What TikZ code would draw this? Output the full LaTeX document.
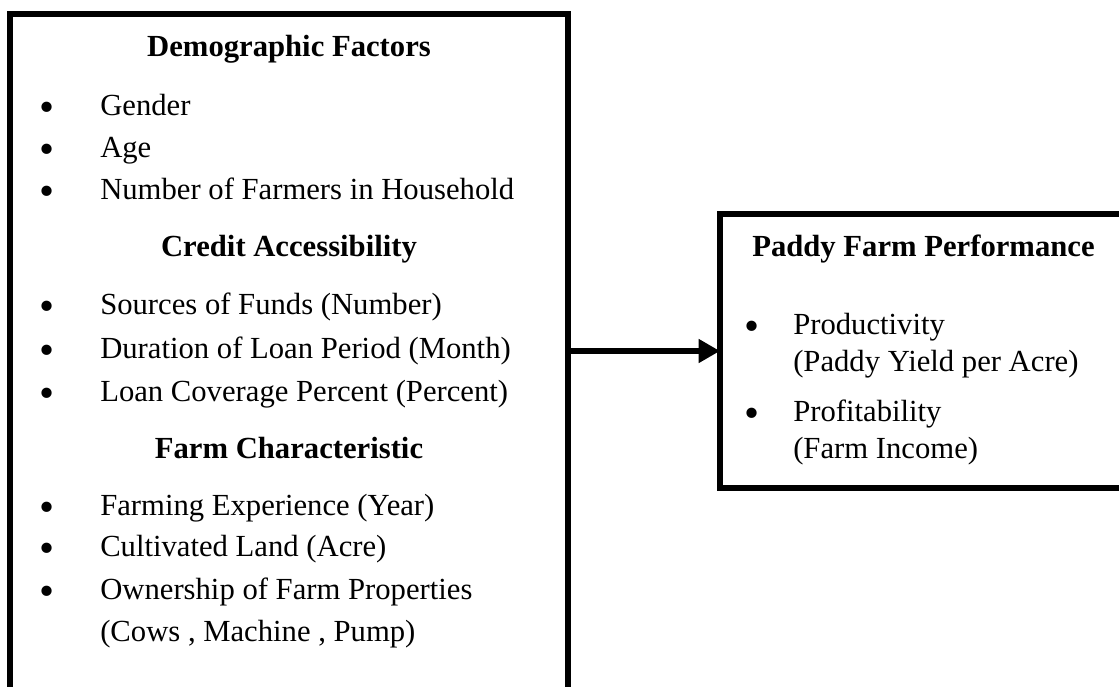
\documentclass[tikz,border=0pt]{standalone}
\usepackage{fontspec}
\usepackage{graphicx}
\setmainfont{Liberation Serif}
\usetikzlibrary{arrows.meta}

% bigger list bullet, dropped to x-height
\newcommand{\bigbullet}{\raisebox{-0.2em}{\scalebox{1.4}{\textbullet}}}
\newcommand{\bodyfont}{\fontsize{23}{28}\selectfont}

\tikzset{
  frame/.style={draw, line width=4.2pt, rectangle, outer sep=0pt, inner sep=0pt},
  head/.style={font=\bodyfont\bfseries, anchor=base, inner sep=0pt},
  item/.style={anchor=base west, inner sep=0pt},
  dot/.style={anchor=base, inner sep=0pt},
  flow/.style={line width=5.2pt, -{Triangle[length=16pt,width=17pt]}},
}

\begin{document}
\begin{tikzpicture}[x=0.75pt, y=-0.75pt, font=\bodyfont]
  % positions (px, y downwards)
  \def\tx{100}   % text column, left box
  \def\rx{793}   % text column, right box
  \useasboundingbox (0,0) rectangle (1119,686);

  % boxes
  \node[frame, minimum width=558*0.75pt, minimum height=686*0.75pt] (factors) at (289,357) {};
  \node[frame, minimum width=410*0.75pt, minimum height=274*0.75pt] (perf) at (925,351) {};

  % demographic factors
  \node[head] (demo) at (289,56) {Demographic Factors};
  \node[item] (gender) at (\tx,115) {Gender};
  \node[item] (age) at (\tx,157) {Age};
  \node[item] (members) at (\tx,199) {Number of Farmers in Household};

  % credit accessibility
  \node[head] (credit) at (289,256) {Credit Accessibility};
  \node[item] (funds) at (\tx,314) {Sources of Funds (Number)};
  \node[item] (period) at (\tx,358) {Duration of Loan Period (Month)};
  \node[item] (coverage) at (\tx,401) {Loan Coverage Percent (Percent)};

  % farm characteristic
  \node[head] (farm) at (289,458) {Farm Characteristic};
  \node[item] (experience) at (\tx,515) {Farming Experience (Year)};
  \node[item] (land) at (\tx,556) {Cultivated Land (Acre)};
  \node[item] (owner) at (\tx,599) {Ownership of Farm Properties};
  \node[item] (assets) at (\tx,641) {(Cows , Machine , Pump)};

  % bullets, left box
  \foreach \y [count=\i] in {115,157,199,314,358,401,515,556,599}
    \node[dot] (dot\i) at (47,\y) {\bigbullet};

  % performance
  \node[head, anchor=base west] (title) at (752,256) {Paddy Farm Performance};
  \node[item] (prod) at (\rx,334) {Productivity};
  \node[item] (yield) at (\rx,371) {(Paddy Yield per Acre)};
  \node[item] (profit) at (\rx,421) {Profitability};
  \node[item] (income) at (\rx,458) {(Farm Income)};

  % bullets, right box
  \foreach \y [count=\i] in {334,421}
    \node[dot] (rdot\i) at (752,\y) {\bigbullet};

  \draw[flow] (perf -| factors.east) -- (perf.west);
\end{tikzpicture}
\end{document}
